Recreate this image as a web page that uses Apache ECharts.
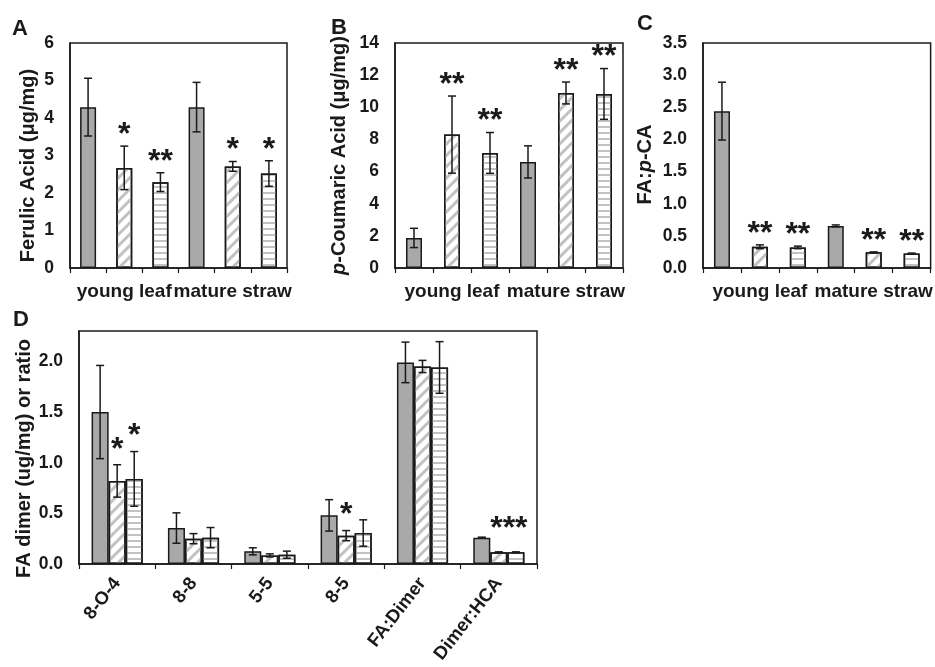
<!DOCTYPE html>
<html>
<head>
<meta charset="utf-8">
<script src="https://cdn.jsdelivr.net/npm/echarts@6/dist/echarts.min.js"></script>
<style>
  html, body { margin: 0; padding: 0; background: #fff; }
  #chart { width: 935px; height: 667px; }
</style>
</head>
<body>
<div id="chart"></div>
<script>
// panels A-C: six bars each (young leaf: ctrl, line1, line2 / mature straw: ctrl, line1, line2)
var groupLabels = ['young leaf', 'mature straw']
var sixCats = ['1', '2', '3', '4', '5', '6']

var faMean = [4.29, 2.67, 2.29, 4.29, 2.71, 2.52]
var faErr = [0.77, 0.58, 0.25, 0.66, 0.13, 0.34]
var faStars = ['', '*', '**', '', '*', '*']

var pcaMean = [1.87, 8.3, 7.16, 6.6, 10.89, 10.83]
var pcaErr = [0.6, 2.4, 1.27, 1.0, 0.68, 1.58]
var pcaStars = ['', '**', '**', '', '**', '**']

var ratioMean = [2.44, 0.33, 0.32, 0.655, 0.245, 0.224]
var ratioErr = [0.45, 0.03, 0.02, 0.015, 0.005, 0.008]
var ratioStars = ['', '**', '**', '', '**', '**']

// panel D
var dimerCats = ['8-O-4', '8-8', '5-5', '8-5', 'FA:Dimer', 'Dimer:HCA']
var dCtrl = [1.5, 0.355, 0.125, 0.48, 1.99, 0.26]
var dCtrlErr = [0.46, 0.15, 0.035, 0.155, 0.2, 0.005]
var dLine1 = [0.82, 0.25, 0.085, 0.28, 1.95, 0.115]
var dLine1Err = [0.16, 0.05, 0.015, 0.05, 0.06, 0.005]
var dLine2 = [0.84, 0.26, 0.092, 0.306, 1.94, 0.115]
var dLine2Err = [0.27, 0.1, 0.035, 0.13, 0.255, 0.005]
var dCtrlStars = ['', '', '', '', '', '']
var dLine1Stars = ['*', '', '', '*', '', '']
var dLine2Stars = ['*', '', '', '', '', '***']

var font = "'Liberation Sans', Arial, sans-serif"
var ink = '#1a1a1a'

var gray = { color: '#a9a9a9', borderColor: ink, borderWidth: 1.5 }
var hatch = {
    color: '#fff', borderColor: ink, borderWidth: 1.5,
    decal: { symbol: 'rect', symbolSize: 1, color: '#c2c2c2', dashArrayX: [1, 0], dashArrayY: [3, 5], rotation: -Math.PI / 4 }
}
var stripe = {
    color: '#fff', borderColor: ink, borderWidth: 1.5,
    decal: { symbol: 'rect', symbolSize: 1, color: '#c2c2c2', dashArrayX: [1, 0], dashArrayY: [2, 4], rotation: 0 }
}
var sixStyles = [gray, hatch, stripe, gray, hatch, stripe]

function sixBars(values, idx){
    return {
        type: 'bar',
        xAxisIndex: idx * 2, yAxisIndex: idx,
        barWidth: 16,
        data: values.map(function(v, i){ return { value: v, itemStyle: sixStyles[i] } })
    }
}

// error bars + significance stars, k = bar position inside the group, n = bars per group
function errBars(means, errs, stars, xIdx, yIdx, k, n, gap, lift){
    return {
        type: 'custom',
        xAxisIndex: xIdx, yAxisIndex: yIdx,
        z: 5,
        data: means.map(function(m, i){ return [i, m, errs[i]] }),
        renderItem: function(params, api){
            var i = api.value(0), m = api.value(1), e = api.value(2)
            var band = api.size([1, 0])[0]
            var bw = band * (1 - gap) / n
            var dx = (k - (n - 1) / 2) * bw
            var hi = api.coord([i, m + e])
            var lo = api.coord([i, m - e])
            var x = hi[0] + dx
            var st = { stroke: ink, lineWidth: 1.5 }
            var kids = [
                { type: 'line', shape: { x1: x, y1: hi[1], x2: x, y2: lo[1] }, style: st },
                { type: 'line', shape: { x1: x - 4, y1: hi[1], x2: x + 4, y2: hi[1] }, style: st },
                { type: 'line', shape: { x1: x - 4, y1: lo[1], x2: x + 4, y2: lo[1] }, style: st }
            ]
            var s = stars[params.dataIndex]
            if (s) {
                var three = s === '***'
                kids.push({
                    type: 'text',
                    style: { text: s, x: x + (three ? -7 : 0), y: hi[1] - lift - (three ? 8 : 0),
                        align: 'center', verticalAlign: 'middle',
                        font: 'bold 32px ' + font, fill: ink }
                })
            }
            return { type: 'group', children: kids }
        }
    }
}

function valueAxis(idx, max, interval, name, digits, gap, shift, extra){
    var ax = {
        type: 'value', gridIndex: idx, min: 0, max: max, interval: interval,
        name: name, nameLocation: 'middle', nameGap: gap, nameRotate: 90,
        nameTextStyle: { fontFamily: font, fontWeight: 'bold', fontSize: 20, color: ink,
            padding: [0, shift, 0, 0],
            rich: { i: { fontFamily: font, fontWeight: 'bold', fontStyle: 'italic', fontSize: 20, color: ink } } },
        axisLine: { show: true, lineStyle: { color: ink, width: 1.5 } },
        axisTick: { show: false },
        splitLine: { show: false },
        axisLabel: { margin: 16, fontFamily: font, fontWeight: 'bold', fontSize: 17.5, color: ink,
            formatter: function(v){ return v.toFixed(digits) } }
    }
    for (var key in extra) ax.axisLabel[key] = extra[key]
    return ax
}

function catAxis(idx){
    return {
        type: 'category', gridIndex: idx, data: sixCats, position: 'bottom',
        axisLine: { lineStyle: { color: ink, width: 1.5 } },
        axisTick: { show: true, length: 5, lineStyle: { color: ink, width: 1.2 } },
        axisLabel: { show: false }
    }
}

function groupAxis(idx){
    return {
        type: 'category', gridIndex: idx, data: groupLabels, position: 'bottom',
        axisLine: { show: false }, axisTick: { show: false },
        axisLabel: { interval: 0, margin: 14, fontFamily: font, fontWeight: 'bold', fontSize: 19, color: ink }
    }
}

var frame = { show: true, borderColor: ink, borderWidth: 1.5, backgroundColor: 'transparent' }
function letter(t, left, top){
    return { text: t, left: left, top: top, padding: 0,
        textStyle: { fontFamily: font, fontWeight: 'bold', fontSize: 22, color: ink } }
}

var chart = echarts.init(document.getElementById('chart'), null, { renderer: 'canvas' })

var option = {
    animation: false,
    backgroundColor: '#fff',
    title: [letter('A', 12, 18), letter('B', 331, 17), letter('C', 637, 13), letter('D', 13, 309)],
    grid: [
        Object.assign({ left: 70, top: 43, width: 217, height: 225 }, frame),
        Object.assign({ left: 395, top: 43, width: 228, height: 225 }, frame),
        Object.assign({ left: 703, top: 43, width: 231, height: 225 }, frame),
        Object.assign({ left: 79, top: 331, width: 458, height: 233 }, frame)
    ],
    xAxis: [
        catAxis(0), groupAxis(0),
        catAxis(1), groupAxis(1),
        catAxis(2), groupAxis(2),
        {
            type: 'category', gridIndex: 3, data: dimerCats,
            axisLine: { lineStyle: { color: ink, width: 1.5 } },
            axisTick: { show: true, length: 5, lineStyle: { color: ink, width: 1.2 } },
            axisLabel: { interval: 0, rotate: 52, margin: 16, fontFamily: font, fontWeight: 'bold', fontSize: 18.5, color: ink }
        }
    ],
    yAxis: [
        valueAxis(0, 6, 1, 'Ferulic Acid (μg/mg)', 0, 32, 20),
        valueAxis(1, 14, 2, '{i|p}-Coumaric Acid (μg/mg)', 0, 46, 0),
        valueAxis(2, 3.5, 0.5, 'FA:{i|p}-CA', 1, 48, 18),
        valueAxis(3, 2.3, 0.5, 'FA dimer (ug/mg) or ratio', 1, 45, 22, { showMaxLabel: false })
    ],
    series: [
        sixBars(faMean, 0), errBars(faMean, faErr, faStars, 0, 0, 0, 1, 0, 11),
        sixBars(pcaMean, 1), errBars(pcaMean, pcaErr, pcaStars, 2, 1, 0, 1, 0, 11),
        sixBars(ratioMean, 2), errBars(ratioMean, ratioErr, ratioStars, 4, 2, 0, 1, 0, 11),
        { type: 'bar', xAxisIndex: 6, yAxisIndex: 3, data: dCtrl, itemStyle: gray, barGap: '0%', barCategoryGap: '33%' },
        { type: 'bar', xAxisIndex: 6, yAxisIndex: 3, data: dLine1, itemStyle: hatch, barGap: '0%', barCategoryGap: '33%' },
        { type: 'bar', xAxisIndex: 6, yAxisIndex: 3, data: dLine2, itemStyle: stripe, barGap: '0%', barCategoryGap: '33%' },
        errBars(dCtrl, dCtrlErr, dCtrlStars, 6, 3, 0, 3, 0.33, 15),
        errBars(dLine1, dLine1Err, dLine1Stars, 6, 3, 1, 3, 0.33, 15),
        errBars(dLine2, dLine2Err, dLine2Stars, 6, 3, 2, 3, 0.33, 15)
    ]
}
chart.setOption(option)
</script>
</body>
</html>
